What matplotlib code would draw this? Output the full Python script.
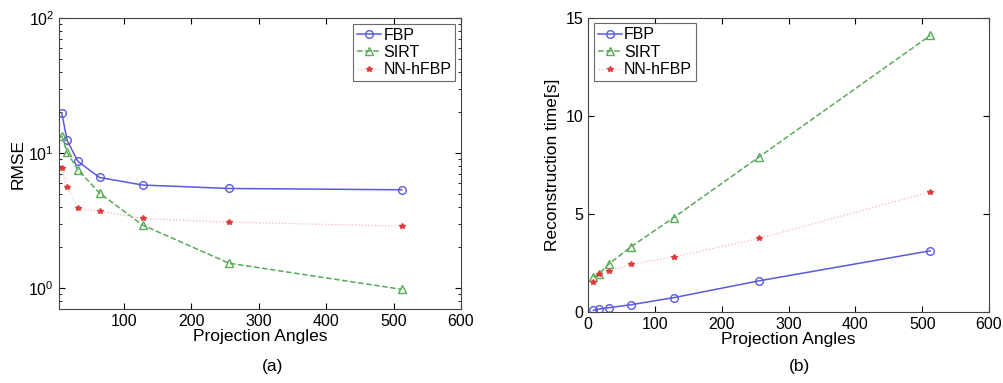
import matplotlib
matplotlib.use("Agg")
import matplotlib.pyplot as plt
import numpy as np

plt.rcParams['font.family'] = ['Liberation Sans', 'DejaVu Sans']

angles = [8, 16, 32, 64, 128, 256, 512]
rmse_fbp = [19.8, 12.4, 8.67, 6.6, 5.8, 5.47, 5.35]
rmse_sirt = [13.4, 10.1, 7.53, 5.06, 2.93, 1.53, 0.98]
rmse_nn = [7.69, 5.6, 3.89, 3.72, 3.28, 3.08, 2.88]

time_fbp = [0.085, 0.15, 0.22, 0.37, 0.73, 1.59, 3.12]
time_sirt = [1.79, 1.93, 2.47, 3.32, 4.81, 7.91, 14.1]
time_nn = [1.53, 1.93, 2.08, 2.44, 2.80, 3.75, 6.12]

labels = ['FBP', 'SIRT', 'NN-hFBP']
c_fbp = '#5a5ae0'
c_sirt = '#5aaa5a'
c_nn = '#e03a3a'

fig = plt.figure(figsize=(10.04, 3.83), dpi=100)
ax1 = fig.add_axes([0.0588, 0.193, 0.4004, 0.760])
ax2 = fig.add_axes([0.5857, 0.1854, 0.3994, 0.768])


def draw(ax, fbp, sirt, nn):
    ax.plot(angles, fbp, '-', color=c_fbp, marker='o', mfc='none', mec=c_fbp,
            ms=5.5, lw=1.1, label=labels[0])
    ax.plot(angles, sirt, '--', color=c_sirt, marker='^', mfc='none', mec=c_sirt,
            ms=6, lw=1.1, label=labels[1])
    ax.plot(angles, nn, ':', color='#f4b8b8', lw=0.9, marker='*', mfc=c_nn,
            mec=c_nn, ms=3.8, label=labels[2])
    ax.tick_params(direction='in', top=True, right=True, labelsize=11.5, length=4)
    ax.tick_params(which='minor', direction='in', top=True, right=True, length=2)
    for s in ax.spines.values():
        s.set_color('#444444')
        s.set_linewidth(0.8)


def legend(ax, loc):
    leg = ax.legend(loc=loc, fontsize=11.5, frameon=True, fancybox=False,
                    handlelength=1.5, borderpad=0.25, labelspacing=0.15,
                    handletextpad=0.15, borderaxespad=0.35)
    leg.get_frame().set_edgecolor('#444444')
    leg.get_frame().set_linewidth(0.8)


draw(ax1, rmse_fbp, rmse_sirt, rmse_nn)
ax1.set_yscale('log')
ax1.set_xlim(4, 600)
ax1.set_ylim(0.7, 100)
ax1.set_xticks([100, 200, 300, 400, 500, 600])
ax1.set_ylabel('RMSE', fontsize=12.5, labelpad=2)
ax1.set_xlabel('Projection Angles', fontsize=12.5, labelpad=0)
legend(ax1, 'upper right')

draw(ax2, time_fbp, time_sirt, time_nn)
ax2.set_xlim(0, 600)
ax2.set_ylim(0, 15)
ax2.set_xticks([0, 100, 200, 300, 400, 500, 600])
ax2.set_yticks([0, 5, 10, 15])
ax2.set_ylabel('Reconstruction time[s]', fontsize=12.5, labelpad=4)
ax2.set_xlabel('Projection Angles', fontsize=12.5, labelpad=0)
legend(ax2, 'upper left')

fig.text(273 / 1004, 1 - 367 / 383, '(a)', ha='center', va='center', fontsize=12.5)
fig.text(800 / 1004, 1 - 367 / 383, '(b)', ha='center', va='center', fontsize=12.5)

fig.savefig('out.png', dpi=100)
